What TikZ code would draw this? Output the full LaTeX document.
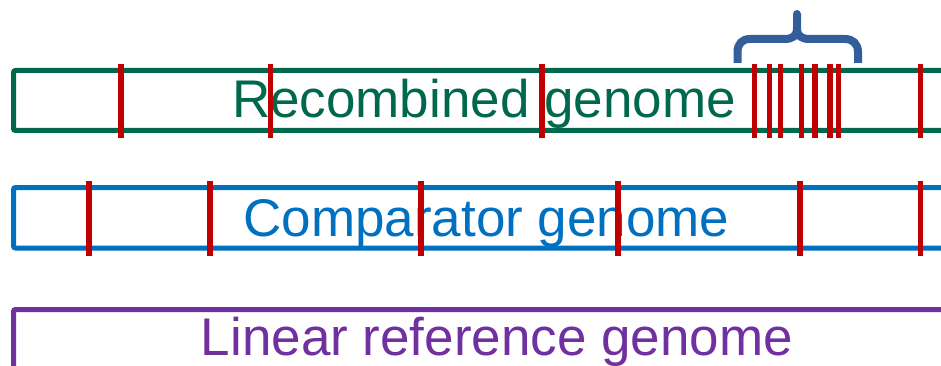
\documentclass[tikz,border=0pt]{standalone}
\usepackage{fontspec}
\setmainfont{Liberation Sans}
\definecolor{gGreen}{RGB}{0,104,76}
\definecolor{gBlue}{RGB}{0,112,192}
\definecolor{gPurple}{RGB}{112,48,160}
\definecolor{gRed}{RGB}{192,0,0}
\definecolor{gBrace}{RGB}{51,94,154}
\tikzset{
  genomebox/.style={line width=5pt, rounded corners=2pt},
  tick/.style={draw=gRed, line width=5.5pt},
  label/.style={anchor=base, inner sep=0pt, font=\fontsize{53pt}{60pt}\selectfont},
}
\begin{document}
\begin{tikzpicture}[x=1pt,y=-1pt]
\useasboundingbox (0,0) rectangle (941,366);
\clip (0,0) rectangle (941,366);
\fill[white] (0,0) rectangle (941,366);
% boxes
\draw[genomebox, draw=gGreen] (13.5,70.5) rectangle (980,130.5);
\draw[genomebox, draw=gBlue] (13.5,187.5) rectangle (980,248);
\draw[genomebox, draw=gPurple] (13.5,309.5) rectangle (980,420);
% labels
\node[label, text=gGreen] (rec) at (484,118) {Recombined genome};
\node[label, text=gBlue] (cmp) at (486.5,236) {Comparator genome};
\node[label, text=gPurple] (lin) at (497,355) {Linear reference genome};
% ticks on recombined genome
\foreach \x in {121,270.5,542,754.5,769.5,780.5,801.5,815,830,838.5,920.5}
  \draw[tick] (\x,64) -- (\x,138);
% ticks on comparator genome
\foreach \x in {89,210,421,618,800,920.5}
  \draw[tick] (\x,181) -- (\x,256);
% brace
\draw[draw=gBrace, line width=8pt, line join=round]
  (737.5,63) -- (737.5,52) .. controls (737.5,44) and (742,39) .. (750,39)
  -- (784,39) .. controls (793,39) and (797,36) .. (797,28) -- (797,14) -- (797,28)
  .. controls (797,36) and (801,39) .. (810,39) -- (845,39)
  .. controls (853,39) and (858,44) .. (858,52) -- (858,63);
\end{tikzpicture}
\end{document}
